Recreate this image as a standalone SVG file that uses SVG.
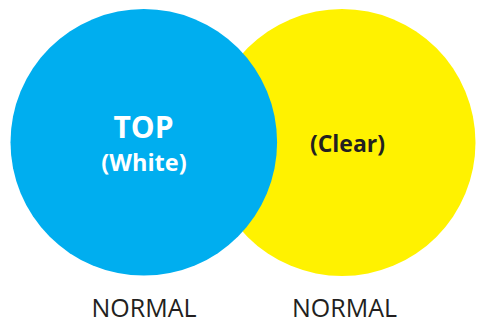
<svg xmlns="http://www.w3.org/2000/svg" width="477" height="320" viewBox="0 0 477 320">
<style>
.t{font-family:"Open Sans","Noto Sans","Liberation Sans",sans-serif;text-anchor:middle}
.b{font-weight:bold}
.w{fill:#ffffff}
.k{fill:#231f20}
</style>
<rect width="477" height="320" fill="#ffffff"/>
<g id="clear">
<circle cx="342" cy="142.5" r="133.5" fill="#fff200"/>
<text class="t b k" x="347.5" y="152" font-size="23">(Clear)</text>
</g>
<g id="top">
<circle cx="143.8" cy="142.3" r="133.3" fill="#00aeef"/>
<text class="t b w" x="143.5" y="138" font-size="30">TOP</text>
<text class="t b w" x="144" y="170.5" font-size="23.5">(White)</text>
</g>
<g id="labels">
<text class="t k" x="144" y="317" font-size="25">NORMAL</text>
<text class="t k" x="344.5" y="317" font-size="25">NORMAL</text>
</g>
<g id="connectors"/>
</svg>
